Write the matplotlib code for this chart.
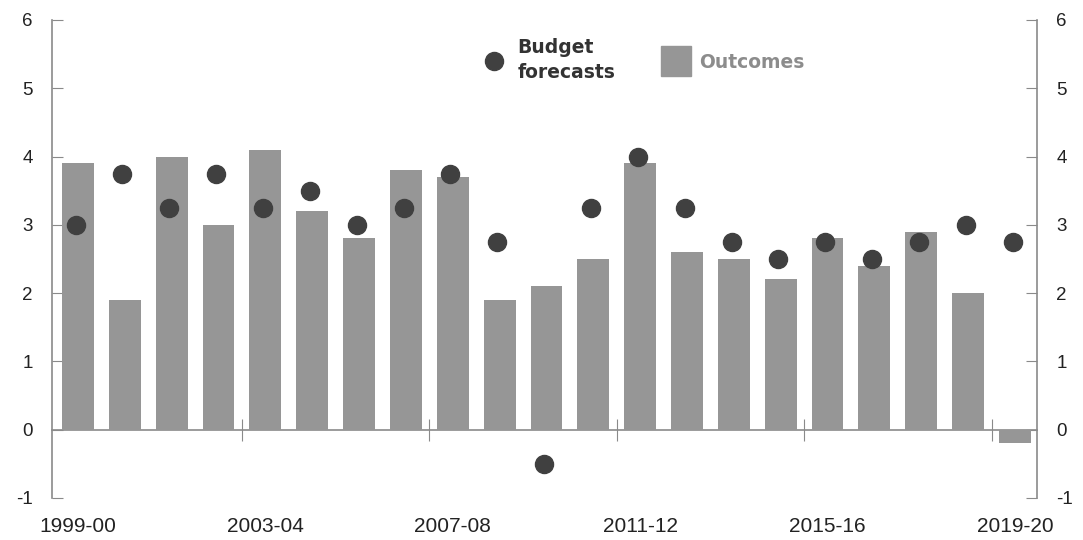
import numpy as np
import matplotlib
matplotlib.use('Agg')
import matplotlib.pyplot as plt
from matplotlib.lines import Line2D

plt.rcParams['font.family'] = ['Liberation Sans', 'DejaVu Sans']
plt.rcParams['axes.unicode_minus'] = False

years = ['1999-00', '2000-01', '2001-02', '2002-03', '2003-04', '2004-05', '2005-06',
         '2006-07', '2007-08', '2008-09', '2009-10', '2010-11', '2011-12', '2012-13',
         '2013-14', '2014-15', '2015-16', '2016-17', '2017-18', '2018-19', '2019-20']
outcomes = [3.9, 1.9, 4.0, 3.0, 4.1, 3.2, 2.8, 3.8, 3.7, 1.9, 2.1,
            2.5, 3.9, 2.6, 2.5, 2.2, 2.8, 2.4, 2.9, 2.0, -0.2]
forecasts = [3.0, 3.75, 3.25, 3.75, 3.25, 3.5, 3.0, 3.25, 3.75, 2.75, -0.5,
             3.25, 4.0, 3.25, 2.75, 2.5, 2.75, 2.5, 2.75, 3.0, 2.75]
yticks = [-1, 0, 1, 2, 3, 4, 5, 6]

bar_col = '#969696'
dot_col = '#404040'
axis_col = '#8a8a8a'

fig = plt.figure(figsize=(10.83, 5.40), dpi=100)
ax = fig.add_axes([0.048, 0.078, 0.9095, 0.885])

x = np.arange(len(years))
ax.bar(x, outcomes, width=0.68, color=bar_col, zorder=2)
ax.plot(x - 0.05, forecasts, 'o', color=dot_col, markersize=13, zorder=3)

ax.set_xlim(-0.555, 20.47)
ax.set_ylim(-1, 6)
ax.set_yticks(yticks)

# labels every 4 years
ax.set_xticks(x[::4])
ax.set_xticklabels(years[::4], fontsize=15, color='#222222')
ax.tick_params(axis='x', length=0, pad=14)

ax.tick_params(axis='y', left=True, right=True, labelleft=True, labelright=True,
               direction='in', length=8, color=axis_col, labelsize=13.5,
               labelcolor='#222222', pad=14)

for s in ['top', 'bottom']:
    ax.spines[s].set_visible(False)
for s in ['left', 'right']:
    ax.spines[s].set_color(axis_col)
    ax.spines[s].set_linewidth(1.2)

# zero line with ticks between categories
zero = ax.secondary_xaxis(1 / 7)
zero.set_xticks(x[::4][1:] - 0.5)
zero.tick_params(axis='x', direction='inout', length=16, color=axis_col,
                 labelbottom=False, labeltop=False)
zero.spines['bottom'].set_color(axis_col)
zero.spines['bottom'].set_linewidth(1.2)

handles = [Line2D([], [], marker='o', ls='', color=dot_col, markersize=13),
           Line2D([], [], marker='s', ls='', color=bar_col, markersize=22)]
leg = fig.legend(handles, ['Budget\nforecasts', 'Outcomes'], loc='upper left',
                 bbox_to_anchor=(0.43, 0.96), ncol=2, frameon=False,
                 prop={'family': 'DejaVu Sans', 'weight': 'bold', 'size': 13.5},
                 handlelength=1.2, handletextpad=0.65, columnspacing=2.65)
leg.get_texts()[0].set_color('#333333')
leg.get_texts()[1].set_color('#8c8c8c')
leg.get_texts()[0].set_linespacing(1.35)

fig.savefig('out.png', dpi=100)
